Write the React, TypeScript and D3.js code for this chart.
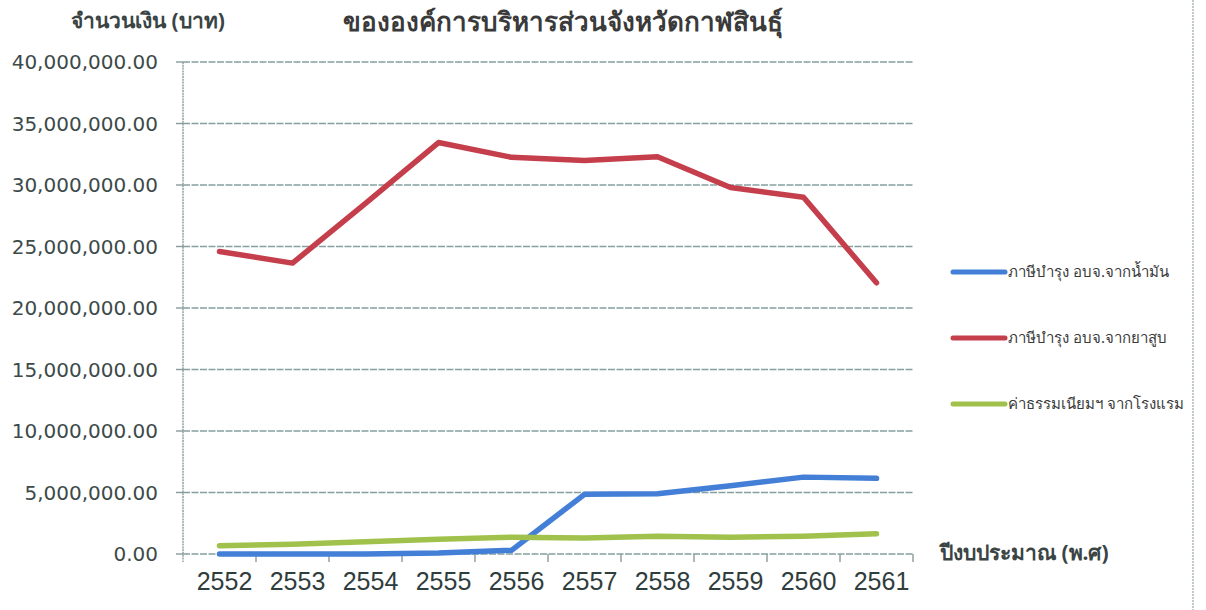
import React from 'react';
import * as d3 from 'd3';

const years = ['2552', '2553', '2554', '2555', '2556', '2557', '2558', '2559', '2560', '2561'];
const oilTax = [0, 0, 0, 80000, 300000, 4850000, 4900000, 5550000, 6250000, 6150000];
const tobaccoTax = [24600000, 23650000, 28500000, 33450000, 32250000, 32000000, 32300000, 29800000, 29000000, 22050000];
const hotelFee = [680000, 800000, 1000000, 1200000, 1370000, 1300000, 1450000, 1370000, 1450000, 1650000];
const yTicks = [0, 5000000, 10000000, 15000000, 20000000, 25000000, 30000000, 35000000, 40000000];
const seriesNames = ['ภาษีบำรุง อบจ.จากน้ำมัน', 'ภาษีบำรุง อบจ.จากยาสูบ', 'ค่าธรรมเนียมฯ จากโรงแรม'];
const titleText = 'ขององค์การบริหารส่วนจังหวัดกาฬสินธุ์';
const yTitle = 'จำนวนเงิน (บาท)';
const xTitle = 'ปีงบประมาณ (พ.ศ)';

const W = 1206;
const H = 610;
const left = 183;
const right = 913;
const top = 62;
const bottom = 554;

export default function App() {
  const x = d3.scaleBand<string>().domain(years).range([left, right]).padding(0);
  const y = d3.scaleLinear().domain([0, 40000000]).range([bottom, top]);
  const fmt = d3.format(',.2f');
  const cx = (d: string) => (x(d) as number) + x.bandwidth() / 2;
  const line = d3
    .line<number>()
    .x((_, i) => cx(years[i]))
    .y((v) => y(v));

  const series = [
    { name: seriesNames[0], values: oilTax, color: '#437fd6' },
    { name: seriesNames[1], values: tobaccoTax, color: '#c43e4b' },
    { name: seriesNames[2], values: hotelFee, color: '#a0c24c' },
  ];
  const boundaries = years.map((d) => x(d) as number).concat([right]);
  const legendY = [272, 338, 404];

  return (
    <svg
      width={W}
      height={H}
      style={{ position: 'absolute', left: 0, top: 0, background: '#fff' }}
      fontFamily="'Noto Sans', 'DejaVu Sans', sans-serif"
    >
      <rect x={0} y={0} width={W} height={H} fill="#fff" />
      {/* right frame border */}
      <line x1={1193} y1={0} x2={1193} y2={H} stroke="#9aa6a6" strokeWidth={1.2} strokeDasharray="2 1" />

      {/* title */}
      <text x={563} y={31} textAnchor="middle" fontSize={26} fontWeight="bold" fill="#3a3a3a">
        {titleText}
      </text>
      <text x={148} y={28} textAnchor="middle" fontSize={21} fontWeight="bold" fill="#3a4444">
        {yTitle}
      </text>

      {/* gridlines */}
      {yTicks.slice(1).map((t) => (
        <line key={t} x1={left} x2={right} y1={y(t)} y2={y(t)} stroke="#86a0a0" strokeWidth={1.4} strokeDasharray="7 1.5" />
      ))}
      {/* y axis */}
      <line x1={left} x2={left} y1={top} y2={bottom + 8} stroke="#8a9a9a" strokeWidth={1.4} strokeDasharray="2 0.8" />
      {yTicks.map((t) => (
        <g key={'yt' + t}>
          <line x1={left - 7} x2={left} y1={y(t)} y2={y(t)} stroke="#8a9a9a" strokeWidth={1.4} />
          <text x={158} y={y(t)} dy="0.36em" textAnchor="end" fontSize={20} fill="#3c4a4a" fontFamily="'DejaVu Sans', sans-serif">
            {fmt(t)}
          </text>
        </g>
      ))}
      {/* x axis */}
      <line x1={left} x2={right} y1={bottom} y2={bottom} stroke="#86a0a0" strokeWidth={1.4} strokeDasharray="7 1.5" />
      {boundaries.slice(1).map((b, i) => (
        <line key={'xt' + i} x1={b} x2={b} y1={bottom} y2={bottom + 8} stroke="#8a9a9a" strokeWidth={1.4} />
      ))}
      {years.map((yr) => (
        <text
          key={yr}
          x={cx(yr) + 5}
          y={590}
          textAnchor="middle"
          fontSize={25}
          fill="#2f3d3d"
          fontFamily="'Liberation Sans', Arial, sans-serif"
        >
          {yr}
        </text>
      ))}
      <text x={940} y={553} fontSize={21} fontWeight="bold" fill="#3a4444" dy="0.35em">
        {xTitle}
      </text>

      {/* series */}
      {series.map((s) => (
        <path key={s.name} d={line(s.values) as string} fill="none" stroke={s.color} strokeWidth={5.5} strokeLinejoin="round" strokeLinecap="round" />
      ))}

      {/* legend */}
      {series.map((s, i) => (
        <g key={'lg' + i}>
          <line x1={953} x2={1005} y1={legendY[i]} y2={legendY[i]} stroke={s.color} strokeWidth={5} strokeLinecap="round" />
          <text x={1008} y={legendY[i]} dy="0.35em" fontSize={15} fill="#3a3a3a">
            {s.name}
          </text>
        </g>
      ))}
    </svg>
  );
}
